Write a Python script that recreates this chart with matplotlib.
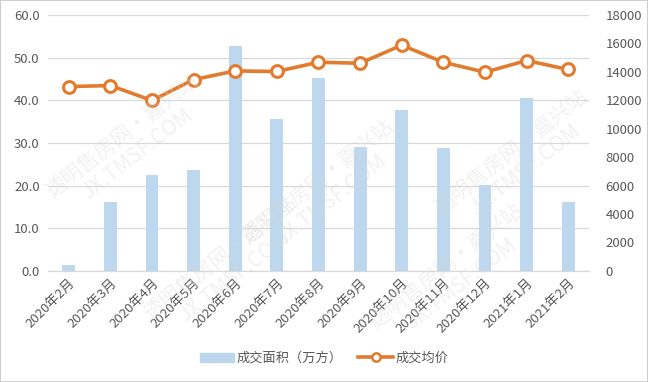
import matplotlib.pyplot as plt
from matplotlib.lines import Line2D
from matplotlib.patches import Patch, Rectangle

plt.rcParams['font.family'] = ['Noto Sans CJK SC', 'DejaVu Sans']

months = ['2020年2月', '2020年3月', '2020年4月', '2020年5月', '2020年6月', '2020年7月',
          '2020年8月', '2020年9月', '2020年10月', '2020年11月', '2020年12月', '2021年1月', '2021年2月']
area = [1.4, 16.2, 22.5, 23.7, 52.7, 35.7, 45.2, 29.1, 37.7, 28.8, 20.2, 40.5, 16.2]
price = [12960, 13030, 11980, 13450, 14060, 14020, 14670, 14600, 15870, 14670, 13970, 14790, 14160]

bar_color = '#bdd7ee'
line_color = '#e27b2e'
text_color = '#595959'

fig = plt.figure(figsize=(6.48, 3.82), dpi=100)
ax = fig.add_axes([0.074, 0.291, 0.835, 0.670])
ax2 = ax.twinx()

x = range(len(months))
ax.bar(x, area, width=0.31, color=bar_color, zorder=2)
ax2.plot(x, price, color=line_color, lw=2.6, marker='o', ms=8.5,
         mfc='white', mec=line_color, mew=2.2, zorder=3)

ax.set_xlim(-0.5, len(months) - 0.5)
ax.set_ylim(0, 60)
ax.set_yticks(range(0, 61, 10))
ax.set_yticklabels([f'{v:.1f}' for v in range(0, 61, 10)])
ax2.set_ylim(0, 18000)
ax2.set_yticks(range(0, 18001, 2000))

ax.set_xticks(list(x))
ax.set_xticklabels(months, rotation=45, ha='right', rotation_mode='anchor')

ax.grid(axis='y', color='#d9d9d9', lw=0.9, zorder=0)
ax.set_axisbelow(True)
for a in (ax, ax2):
    for s in ('top', 'left', 'right'):
        a.spines[s].set_visible(False)
    a.spines['bottom'].set_color('#d9d9d9')
    a.tick_params(length=0, labelsize=9.5, colors=text_color, pad=6)
ax.tick_params(axis='x', pad=4)
ax2.tick_params(axis='y', pad=12)

handles = [Patch(color=bar_color), Line2D([0], [0], color=line_color, lw=2.6, marker='o', ms=6,
                                           mfc='white', mec=line_color, mew=1.8)]
fig.legend(handles, ['成交面积（万方）', '成交均价'], loc='center', bbox_to_anchor=(0.5, 0.062),
           ncol=2, frameon=False, fontsize=9.5, labelcolor=text_color, handlelength=2.6,
           handletextpad=0.2, columnspacing=1.2)

# faint watermark
for wx, wy in [(0.2, 0.62), (0.5, 0.5), (0.8, 0.58), (0.35, 0.3), (0.7, 0.28)]:
    fig.text(wx, wy, '透明售房网·嘉兴站\nJX.TMSF.COM', rotation=38, ha='center', va='center',
             fontsize=15, color='#d8d8d8', alpha=0.35, linespacing=1.1, zorder=0)

fig.patches.append(Rectangle((0, 0), 1, 1, transform=fig.transFigure, fill=False,
                             edgecolor='#d0d0d0', lw=1.5))

fig.savefig('out.png', dpi=100)
